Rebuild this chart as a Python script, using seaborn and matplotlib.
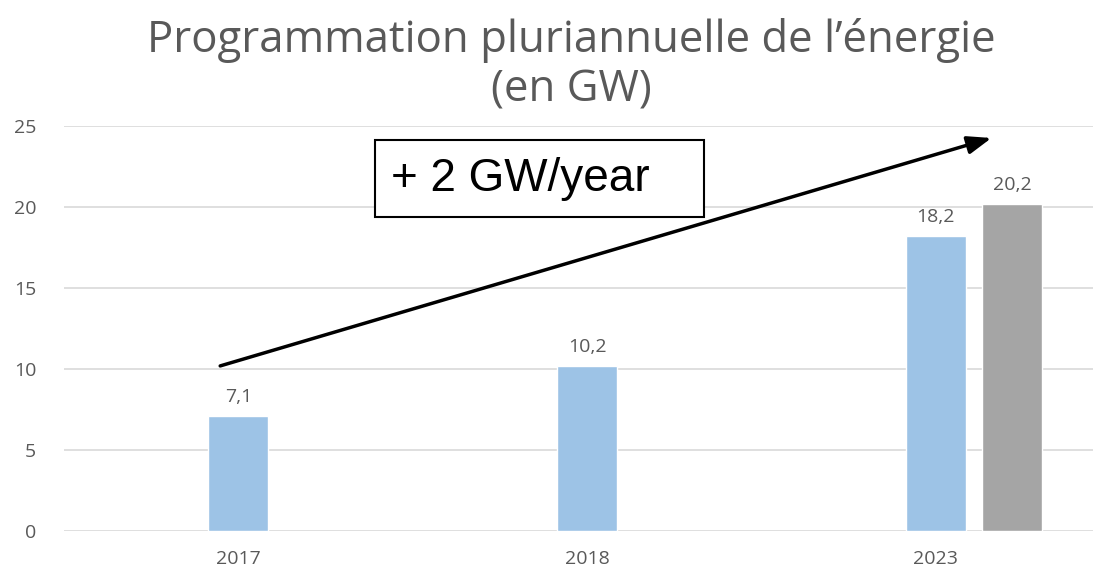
import matplotlib
matplotlib.use("Agg")
import matplotlib.pyplot as plt
import pandas as pd
import seaborn as sns

years = ["2017", "2018", "2023"]
blue_values = [7.1, 10.2, 18.2]
gray_years = ["2023"]
gray_values = [20.2]
y_ticks = [0, 5, 10, 15, 20, 25]

blue = "#9DC3E6"
gray = "#A5A5A5"
txt = "#595959"

sns.set_theme(style="white")
plt.rcParams["font.family"] = ["Open Sans", "DejaVu Sans"]

fig = plt.figure(figsize=(10.93, 5.71), dpi=100)
ax = fig.add_axes([64 / 1093, 40 / 571, 1046 / 1093, 405 / 571])

df_blue = pd.DataFrame({"Year": years, "GW": blue_values})
df_gray = pd.DataFrame({"Year": gray_years, "GW": gray_values})

bar_w = 0.172
sns.barplot(df_blue, x="Year", y="GW", order=years, color=blue, width=bar_w,
            saturation=1, ax=ax)
n_blue = len(ax.patches)
sns.barplot(df_gray, x="Year", y="GW", order=years, color=gray, width=bar_w,
            saturation=1, ax=ax)
# shift the gray bar next to the blue one
for p in ax.patches[n_blue:]:
    p.set_x(p.get_x() + 0.22)

for p in ax.patches:
    h = p.get_height()
    if h != h or h == 0:
        continue
    ax.annotate(f"{h:.1f}".replace(".", ","),
                (p.get_x() + p.get_width() / 2, h),
                xytext=(0, 7), textcoords="offset points",
                ha="center", va="bottom", fontsize=14, color=txt)

ax.set_xlim(-0.5, 2.5)
ax.set_ylim(0, 25)
ax.set_yticks(y_ticks)
ax.yaxis.grid(True, color="#D9D9D9", linewidth=1.2)
ax.set_axisbelow(True)
for s in ax.spines.values():
    s.set_visible(False)
ax.tick_params(axis="both", length=0, labelsize=14, colors=txt)
ax.tick_params(axis="y", pad=20)
ax.tick_params(axis="x", pad=14)
ax.set_xlabel("")
ax.set_ylabel("")

# trend arrow and label
ax.annotate("", xy=(2.16, 24.26), xytext=(-0.052, 10.19),
            arrowprops=dict(arrowstyle="-|>,head_length=1.2,head_width=0.45",
                            color="black", lw=2.5, shrinkA=0, shrinkB=0))
ax.text(0.438, 21.75, "+ 2 GW/year\u00a0\u00a0\u00a0", fontsize=33, family="Liberation Sans",
        ha="left", va="center", color="black",
        bbox=dict(boxstyle="square,pad=0.36", fc="white", ec="black", lw=1.5))

fig.text(0.523, 0.885, "Programmation pluriannuelle de l\u2019énergie\n(en GW)",
         ha="center", va="center", fontsize=31.5, color=txt, linespacing=1.15)

fig.savefig("out.png", dpi=100)
